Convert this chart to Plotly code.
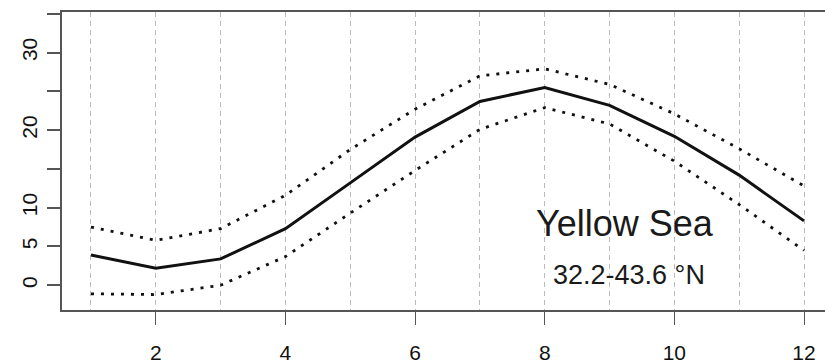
import plotly.graph_objects as go

# Monthly sea surface temperature climatology, Yellow Sea
months = list(range(1, 13))
sst_mean = [3.9, 2.2, 3.4, 7.3, 13.2, 19.1, 23.7, 25.5, 23.2, 19.2, 14.2, 8.3]
sst_upper = [7.5, 5.8, 7.3, 11.6, 17.5, 22.7, 27.0, 27.9, 25.9, 22.1, 17.6, 12.8]
sst_lower = [-1.1, -1.2, 0.0, 3.7, 9.3, 14.8, 20.1, 22.9, 20.8, 16.0, 10.4, 4.5]

x_tickvals = [2, 4, 6, 8, 10, 12]
y_tickvals = [0, 5, 10, 15, 20, 25, 30, 35]
y_ticktext = ["0", "5", "10", "", "20", "", "30", ""]

region_name = "Yellow Sea"
region_lat = "32.2-43.6 °N"

fig = go.Figure()

# Upper and lower envelopes (dotted)
for series in (sst_upper, sst_lower):
    fig.add_trace(go.Scatter(
        x=months, y=series, mode="lines",
        line=dict(color="#111111", width=2.8, dash="3px,7px"),
        hoverinfo="skip", showlegend=False,
    ))

# Monthly mean (solid)
fig.add_trace(go.Scatter(
    x=months, y=sst_mean, mode="lines",
    line=dict(color="#111111", width=3),
    showlegend=False,
))

font_ticks = dict(family="Liberation Sans", size=21, color="#111111")

fig.update_layout(
    width=825, height=364,
    margin=dict(l=62, r=0, t=12, b=51),
    paper_bgcolor="white", plot_bgcolor="white",
    xaxis=dict(
        range=[0.553, 12.324],
        tickmode="array", tickvals=x_tickvals,
        ticks="outside", ticklen=13, tickwidth=1.2, tickcolor="#555555",
        tickfont=font_ticks, ticklabelstandoff=10,
        showline=True, linecolor="#555555", linewidth=2, mirror=True,
        showgrid=True, gridcolor="#bbbbbb", gridwidth=1, griddash="5px,4px",
        minor=dict(dtick=1, tick0=1, showgrid=True, gridcolor="#bbbbbb",
                   gridwidth=1, griddash="5px,4px", ticks=""),
        zeroline=False,
    ),
    yaxis=dict(
        range=[-3.19, 35.23],
        tickmode="array", tickvals=y_tickvals, ticktext=y_ticktext,
        tickangle=-90,
        ticks="outside", ticklen=13, tickwidth=1.5, tickcolor="#555555",
        tickfont=font_ticks, ticklabelstandoff=2,
        showline=True, linecolor="#555555", linewidth=2, mirror=False,
        showgrid=False, zeroline=False,
    ),
)

# Region label and latitude band
fig.add_annotation(
    x=9.24, y=7.9, xref="x", yref="y", text=region_name,
    showarrow=False, font=dict(family="Liberation Sans", size=36, color="#1a1a1a"),
    xanchor="center", yanchor="middle",
)
fig.add_annotation(
    x=9.30, y=1.3, xref="x", yref="y", text=region_lat,
    showarrow=False, font=dict(family="Liberation Sans", size=27, color="#1a1a1a"),
    xanchor="center", yanchor="middle",
)

fig.write_html("out.html")
